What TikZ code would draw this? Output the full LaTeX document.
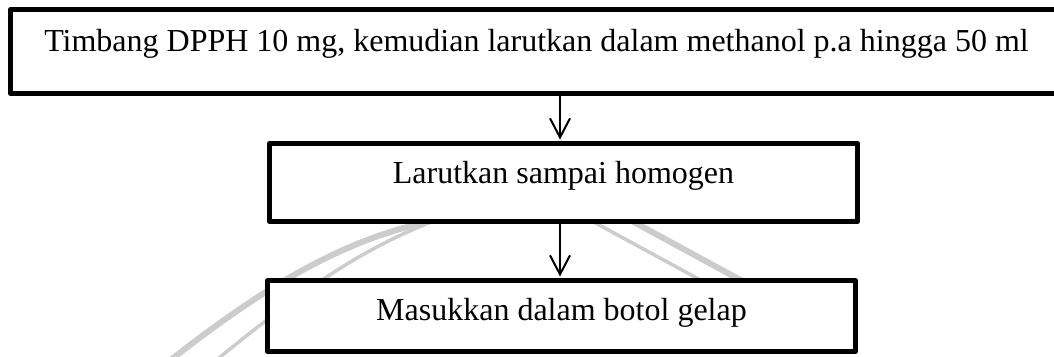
\documentclass[tikz,border=0pt]{standalone}
\usepackage{fontspec}
\setmainfont{Liberation Serif}
\usetikzlibrary{arrows.meta}
\begin{document}
\begin{tikzpicture}[x=1pt,y=-1pt,
  stepbox/.style={draw=black, line width=5pt, fill=white, inner sep=0pt,
    text height=22pt, font=\fontsize{32}{38}\selectfont, align=center, line join=round},
  arr/.style={draw=black, line width=2pt, shorten >=1.5pt,
    -{Straight Barb[length=19pt,width=20pt,line width=2pt]}},
  wmthick/.style={draw=black!20, line width=6pt},
  wmthin/.style={draw=black!20, line width=3.5pt}]
\useasboundingbox (0,0) rectangle (1054,356);
\clip (0,0) rectangle (1054,356);
\fill[white] (0,0) rectangle (1054,356);
% faint watermark
\draw[wmthick] (168,362) .. controls (260,290) and (340,240) .. (432,221);
\draw[wmthin] (214,362) .. controls (290,300) and (350,255) .. (426,224);
\draw[wmthin] (590,220) -- (706,283);
\draw[wmthick] (630,220) -- (746,283);
% boxes
\node[stepbox, minimum width=1052pt, minimum height=84pt, text depth=23pt] (b1) at (536.5,51.5)
  {Timbang DPPH 10 mg, kemudian larutkan dalam methanol p.a hingga 50 ml};
\node[stepbox, minimum width=588pt, minimum height=78pt, text depth=21pt] (b2) at (563.5,182.5)
  {Larutkan sampai homogen};
\node[stepbox, minimum width=588pt, minimum height=71pt, text depth=14pt] (b3) at (561.5,316)
  {Masukkan dalam botol gelap};
\coordinate (ax) at (560,0);
\draw[arr] (b1.south -| ax) -- (b2.north -| ax);
\draw[arr] (b2.south -| ax) -- (b3.north -| ax);
\end{tikzpicture}
\end{document}
